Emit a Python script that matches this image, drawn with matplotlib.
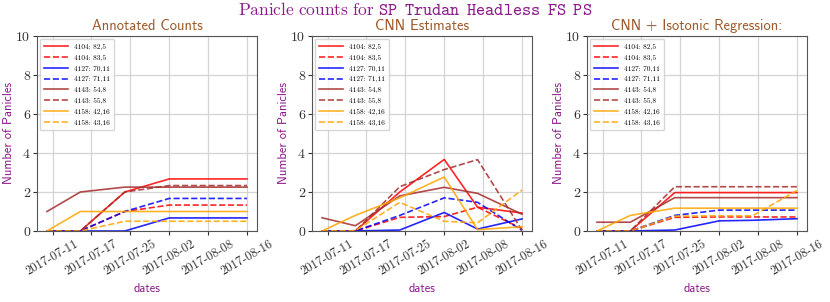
import matplotlib
matplotlib.use("Agg")
import matplotlib.pyplot as plt
import datetime as dt

# ---- data ----
dates = ["2017-07-11", "2017-07-17", "2017-07-25", "2017-08-02", "2017-08-08", "2017-08-16"]
tick_dates = ["2017-07-12", "2017-07-19", "2017-07-26", "2017-08-02", "2017-08-09", "2017-08-16"]
tick_labels = dates

series_labels = ["4104: 82,5", "4104: 83,5", "4127: 70,11", "4127: 71,11",
                 "4143: 54,8", "4143: 55,8", "4158: 42,16", "4158: 43,16"]
series_colors = ["red", "red", "blue", "blue", "brown", "brown", "orange", "orange"]
series_styles = ["-", "--", "-", "--", "-", "--", "-", "--"]

annotated = [
    [0, 0, 2.0, 2.67, 2.67, 2.67],
    [0, 0, 1.0, 1.33, 1.33, 1.33],
    [0, 0, 0, 0.67, 0.67, 0.67],
    [0, 0, 1.0, 1.67, 1.67, 1.67],
    [1.0, 2.0, 2.25, 2.25, 2.25, 2.25],
    [0, 0, 2.0, 2.33, 2.33, 2.33],
    [0, 1.0, 1.0, 1.0, 1.0, 1.0],
    [0, 0, 0.5, 0.5, 0.5, 0.5],
]
cnn = [
    [0, 0, 2.0, 3.67, 1.22, 0.92],
    [0, 0, 0.7, 0.74, 1.22, 0.12],
    [0, 0, 0.05, 0.95, 0.1, 0.62],
    [0, 0, 0.8, 1.7, 1.47, 0.03],
    [0.68, 0.27, 1.8, 2.24, 1.93, 0.86],
    [0, 0, 2.27, 3.15, 3.66, 0.04],
    [0, 0.8, 1.7, 2.77, 0.07, 0.22],
    [0, 0.02, 1.47, 0.5, 0.42, 2.1],
]
isotonic = [
    [0, 0, 1.97, 1.97, 1.97, 1.97],
    [0, 0, 0.7, 0.72, 0.72, 0.72],
    [0, 0, 0.05, 0.52, 0.55, 0.63],
    [0, 0, 0.8, 1.07, 1.07, 1.07],
    [0.45, 0.45, 1.71, 1.71, 1.71, 1.71],
    [0, 0, 2.27, 2.27, 2.27, 2.27],
    [0, 0.8, 1.17, 1.17, 1.17, 1.17],
    [0, 0, 0.76, 0.78, 0.78, 2.08],
]
panel_titles = ["Annotated Counts", "CNN Estimates", "CNN + Isotonic Regression:"]
panels = [annotated, cnn, isotonic]
yticks = [0, 2, 4, 6, 8, 10]

# ---- style ----
W, H = 830, 302
fig = plt.figure(figsize=(W / 100, H / 100), dpi=100)
purple = "#8b1a8b"
sienna = "#9c5a2c"

x = [dt.datetime.strptime(d, "%Y-%m-%d") for d in dates]
xt = [dt.datetime.strptime(d, "%Y-%m-%d") for d in tick_dates]

lefts = [37, 312, 587]
for k, (data, ttl) in enumerate(zip(panels, panel_titles)):
    ax = fig.add_axes([lefts[k] / W, (H - 231) / H, 220 / W, 195 / H])
    for vals, lab, c, ls in zip(data, series_labels, series_colors, series_styles):
        ax.plot(x, vals, color=c, linestyle=ls, linewidth=1.2, alpha=0.85, label=lab)
    ax.set_ylim(0, 10)
    ax.set_yticks(yticks)
    ax.set_yticklabels([str(v) for v in yticks], fontfamily="cmr10", fontsize=10)
    ax.set_xticks(xt)
    ax.set_xticklabels(tick_labels, fontfamily="cmr10", fontsize=9, rotation=30, ha="center")
    ax.grid(True, color="#d4d4d4", linewidth=0.9)
    ax.set_axisbelow(True)
    for s in ax.spines.values():
        s.set_color("#555555")
    ax.tick_params(colors="#333333", length=3, width=0.8, pad=2)
    ax.set_title(ttl, fontfamily="cmss10", fontsize=10.5, color=sienna, pad=4)
    ax.set_ylabel("Number of Panicles", fontfamily="cmss10", fontsize=9, color=purple, labelpad=1)
    ax.set_xlabel("dates", fontfamily="cmss10", fontsize=9, color=purple, labelpad=4)
    ax.legend(loc="upper left", prop={"family": "cmr10", "size": 5.3},
              handlelength=3.2, labelspacing=0.6, borderaxespad=0.4,
              borderpad=0.6, framealpha=0.8)

fig.text(0.5, 1 - 10 / H,
         r"$\mathrm{Panicle\ counts\ for\ }\mathtt{SP\ \,Trudan\ \,Headless\ \,FS\ \,PS}$",
         ha="center", va="center", fontsize=12.5, color=purple,
         math_fontfamily="cm")

fig.savefig("out.png", dpi=100)
